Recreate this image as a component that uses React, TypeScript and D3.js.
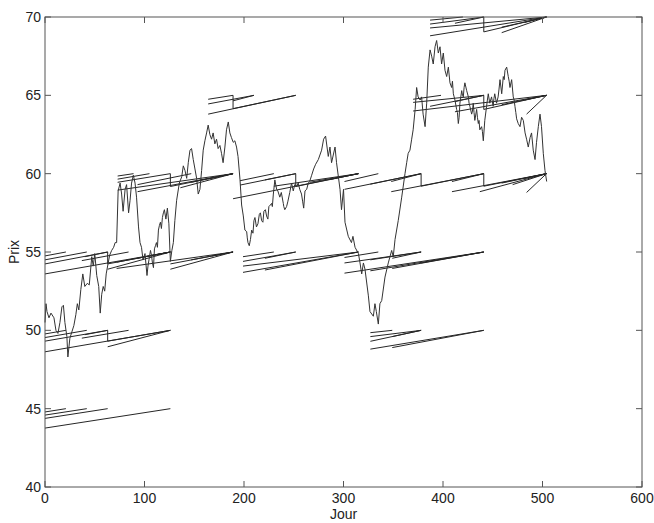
import React from "react";
import * as d3 from "d3";

// ---- Axis ticks ----
const X_TICKS = [0, 100, 200, 300, 400, 500, 600];
const Y_TICKS = [40, 45, 50, 55, 60, 65, 70];

// ---- Price series (day, price) ----
const PRICE_SERIES: [number, number][] = [
  [0, 50.5], [1, 51.7], [2, 51.2], [4, 50.8], [6, 51.1], [9, 50.8], [11, 50.0], [13, 49.8],
  [15, 50.5], [17, 51.5], [18.5, 51.6], [20, 50.5], [22, 49.6], [23, 48.3], [25, 49.5],
  [27, 49.9], [29, 50.3], [31, 51.0], [32.5, 51.7], [34, 51.3], [36, 52.6], [38, 53.6],
  [40, 52.8], [42.5, 53.0], [44.5, 52.9], [47, 54.7], [48.5, 54.1], [50, 54.9], [52, 53.5],
  [54, 52.8], [55.5, 51.1], [57, 52.3], [58.5, 52.8], [60, 52.5], [61.5, 53.6], [63.5, 54.3],
  [65, 54.8], [67, 55.1], [69, 55.3], [70.5, 55.6], [72, 55.6], [73.5, 58.9], [75.5, 59.4],
  [77, 58.7], [78.5, 57.6], [80.5, 59.0], [82, 59.3], [84, 57.5], [85.5, 58.3], [87, 59.4],
  [88.8, 59.9], [90.5, 59.4], [92, 58.5], [94, 56.6], [95.5, 55.6], [97, 55.3], [98.5, 54.5],
  [100.5, 54.9], [102.5, 53.5], [104.5, 54.5], [106, 55.1], [108, 54.3], [110, 55.2],
  [112, 55.6], [114, 56.4], [116, 56.9], [118, 57.2], [120, 57.7], [121.5, 57.1], [123, 57.8],
  [124.5, 56.8], [126, 54.4], [127.5, 55.1], [129, 55.6], [130.5, 57.0], [132.3, 58.3],
  [135, 59.4], [137.4, 59.8], [139, 60.5], [140.7, 60.2], [142.4, 59.7], [144, 60.7],
  [145.7, 61.5], [147.3, 61.6], [149, 60.9], [150.7, 60.3], [152.4, 59.7], [154, 58.7],
  [155.7, 59.0], [157.4, 60.2], [159, 61.5], [160.7, 62.1], [162.4, 62.6], [164, 63.1],
  [165.7, 62.5], [167.4, 62.2], [169, 62.6], [170.7, 61.9], [172.4, 62.2], [174, 61.6],
  [175.8, 61.8], [177.4, 61.3], [179, 60.7], [180.8, 61.7], [182.4, 62.8], [184.2, 63.3],
  [185.8, 62.6], [187.4, 62.3], [189.2, 62.0], [190.8, 62.1], [192.5, 61.7], [194, 61.1],
  [196, 59.6], [197.6, 58.0], [199.3, 57.3], [200.9, 56.4], [202.7, 56.3], [204, 55.6],
  [205.3, 55.4], [207.7, 56.4], [210, 57.0], [212.5, 56.6], [215.4, 57.4], [217.7, 57.0],
  [220, 57.6], [222.7, 57.3], [225, 57.9], [227.7, 58.1], [229.5, 58.7], [231, 59.6],
  [232.8, 59.0], [236, 58.5], [239.5, 58.1], [241, 57.7], [242.8, 57.9], [246, 58.8],
  [247.8, 59.4], [249.5, 58.9], [252.8, 59.2], [254.5, 59.4], [257.8, 58.7], [260, 57.8],
  [261.3, 58.9], [264.6, 59.4], [266, 59.5], [268, 59.9], [270, 60.3], [272, 60.6],
  [274.7, 60.9], [278, 61.5], [280, 62.2], [282, 62.4], [284.7, 61.1], [286.4, 61.7],
  [288, 60.7], [291.5, 61.7], [293, 60.7], [296.5, 59.0], [298, 57.7], [300, 59.0],
  [301.5, 56.9], [304.8, 56.0], [308, 55.6], [309.5, 56.0], [311.6, 55.3], [315, 54.9],
  [316.6, 54.3], [318.3, 53.6], [320, 54.3], [321.6, 53.9], [325, 52.2], [326.6, 51.2],
  [330, 50.9], [331.6, 51.7], [333, 51.2], [335, 50.4], [336.6, 51.7], [338.4, 51.9],
  [341.7, 53.4], [345, 54.3], [348.4, 55.1], [350, 54.7], [351.8, 55.8], [355, 57.0],
  [358.5, 58.5], [361.8, 60.0], [363.5, 60.7], [365, 61.3], [366.8, 61.5], [368.5, 62.2],
  [370, 62.8], [372, 64.1], [373.5, 65.5], [375, 64.9], [377, 64.7], [378.5, 64.9],
  [380, 63.8], [382, 63.0], [383.6, 64.5], [385.2, 66.8], [387, 67.9], [388.6, 67.5],
  [390.2, 67.0], [392, 68.1], [393.6, 68.5], [395.3, 67.7], [397, 68.1], [398.6, 67.0],
  [400.3, 67.7], [402, 66.6], [403.7, 66.2], [405.4, 66.8], [407, 65.8], [408.7, 65.5],
  [410.4, 65.1], [412, 64.7], [413.7, 64.1], [415.4, 63.2], [417, 64.5], [418.8, 65.3],
  [420.4, 64.9], [422, 65.8], [423.8, 65.3], [425.5, 64.9], [427, 64.3], [428.8, 63.8],
  [430.4, 64.5], [432, 63.4], [433.8, 64.1], [435.5, 63.2], [437, 62.8], [438.8, 63.0],
  [440.5, 62.1], [442, 63.4], [443.8, 64.3], [445.5, 65.1], [447, 64.5], [448.8, 64.9],
  [450.4, 64.3], [452, 65.1], [453.8, 64.5], [455.4, 64.9], [457.3, 66.0], [459, 65.1],
  [460.6, 66.2], [462.3, 66.6], [464, 66.8], [465.6, 66.2], [467.3, 65.5], [469, 66.0],
  [470.6, 64.9], [472.3, 64.3], [474, 63.5], [475.6, 63.2], [477.4, 63.0], [479, 63.6],
  [480.7, 63.4], [482.5, 62.6], [484, 62.2], [485.7, 61.7], [487.5, 62.3], [489, 62.6],
  [490.7, 61.5], [492.5, 60.9], [494, 62.0], [495.8, 63.0], [497.5, 63.8], [499, 63.0],
  [500.8, 61.3], [502.5, 60.2], [504.2, 59.5],
];

// ---- Extra small wiggles of the price line seen in the picture (day, price) ----
const PRICE_WIGGLES: [number, number][] = [
  [103.5, 54.1], [107, 54.8], [109, 54.0], [111, 55.4], [113, 55.3], [115, 56.7],
  [117, 56.5], [119, 57.5],
  [203.3, 55.9], [206.5, 55.8], [209, 56.2], [211, 57.2], [214, 56.8], [216.5, 57.5],
  [219, 56.9], [221.5, 57.7], [224, 57.1], [226.5, 58.0], [228.5, 57.9], [234, 58.9],
  [237.5, 58.8], [240, 57.9], [244, 58.2], [251, 59.3], [256, 59.0], [259, 58.2], [263, 59.0],
  [406.2, 66.3], [409.5, 65.9], [411.2, 64.9], [414.5, 63.9], [416.2, 63.6], [419.6, 65.0],
  [421.2, 65.5], [426.2, 64.5], [429.6, 64.0], [431.2, 63.9], [434.6, 63.6], [436.2, 63.4],
  [439.6, 62.7], [444.6, 64.7], [449.6, 64.6], [451.2, 64.8], [456.3, 65.4], [461.5, 66.0],
  [466.5, 65.9], [471.5, 64.7], [473.2, 63.9],
];

// ---- Strike lines [startDay, startValue, endDay, endValue], grouped by strike ----
const SEG_45: number[][] = [
  [0, 44.79, 21, 45], [0, 44.59, 42, 45], [0, 44.38, 63, 45], [0, 43.76, 126, 45],
];

const SEG_50: number[][] = [
  [0, 49.77, 21, 50], [0, 49.54, 42, 50], [0, 49.31, 63, 50], [0, 48.63, 126, 50],
  [40, 49.72, 63, 50], [37, 49.5, 84, 50], [63, 50, 63, 49.31], [63, 49.31, 126, 50],
  [63, 48.95, 126, 50],
  [327, 49.85, 349, 50], [327, 49.6, 378, 50], [327, 49.3, 378, 50], [327, 48.8, 441, 50],
  [349, 49.6, 378, 50], [349, 48.9, 441, 50],
];

const SEG_55: number[][] = [
  [0, 54.75, 21, 55], [0, 54.5, 42, 55], [0, 54.24, 63, 55], [0, 53.6, 126, 55],
  [40, 54.7, 63, 55], [37, 54.45, 84, 55], [63, 55, 63, 54.24], [63, 54.24, 126, 55],
  [63, 53.9, 126, 55], [72, 54.35, 126, 55], [93, 54.6, 126, 55], [105, 54.75, 126, 55],
  [72, 53.95, 189, 55], [126, 54.24, 189, 55], [126, 53.9, 189, 55], [147, 54.5, 189, 55],
  [168, 54.75, 189, 55],
  [199, 54.7, 230, 55], [199, 54.4, 252, 55], [199, 54.1, 315, 55], [199, 53.7, 315, 55],
  [221, 54.6, 252, 55], [221, 53.85, 315, 55],
  [301, 54.65, 335, 55], [301, 54.3, 378, 55], [301, 53.65, 441, 55], [327, 54.5, 378, 55],
  [327, 53.8, 441, 55], [349, 54.6, 378, 55], [349, 53.95, 441, 55], [378, 54.3, 441, 55],
];

const SEG_60: number[][] = [
  [73, 59.85, 89, 60], [73, 59.65, 105, 60], [73, 59.45, 126, 60], [73, 58.95, 189, 60],
  [93, 59.3, 147, 60], [93, 58.85, 189, 60], [126, 60, 126, 59.18], [126, 59.18, 189, 60],
  [136, 59.1, 189, 60], [147, 59.45, 189, 60], [164, 59.67, 189, 60],
  [189, 58.4, 315, 60], [196, 59.55, 230, 60], [196, 59.27, 252, 60], [221, 59.6, 252, 60],
  [230, 59.2, 315, 60], [252, 60, 252, 59.18], [252, 59.18, 315, 60], [266, 59.45, 315, 60],
  [286, 59.62, 315, 60],
  [301, 59.5, 335, 60], [301, 59.0, 378, 60], [327, 59.33, 378, 60], [348, 59.5, 378, 60],
  [348, 58.85, 441, 60], [378, 60, 378, 59.2], [378, 59.2, 441, 60], [409, 59.5, 441, 60],
  [409, 58.85, 504, 60], [437, 58.85, 504, 60], [441, 60, 441, 59.2], [441, 59.2, 504, 60],
  [459, 59.4, 504, 60], [470, 59.3, 504, 60], [482, 59.7, 504, 60], [484, 58.8, 504, 60],
];

const SEG_65: number[][] = [
  [164, 64.75, 189, 65], [164, 64.45, 210, 65], [164, 63.8, 252, 65], [189, 65, 189, 64.15],
  [189, 64.15, 252, 65], [189, 64.65, 210, 65],
  [370, 64.75, 398, 65], [370, 64.55, 441, 65], [370, 64.0, 504, 65], [387, 64.3, 441, 65],
  [412, 64.6, 441, 65], [412, 63.95, 504, 65], [441, 65, 441, 64.1], [441, 64.1, 504, 65],
  [459, 64.4, 504, 65], [482, 64.7, 504, 65], [484, 63.8, 504, 65],
];

const SEG_70: number[][] = [
  [387, 69.8, 420, 70], [387, 69.55, 441, 70], [387, 69.3, 504, 70], [387, 68.8, 504, 70],
  [412, 69.6, 441, 70], [441, 70, 441, 69.05], [441, 69.05, 504, 70], [459, 69.35, 504, 70],
  [459, 69.0, 504, 70], [482, 69.65, 504, 70],
];

const X_LABEL = "Jour";
const Y_LABEL = "Prix";

export default function App() {
  const W = 654;
  const H = 523;
  const left = 45, right = 642, top = 17, bottom = 487;
  const x = d3.scaleLinear().domain([0, 600]).range([left, right]);
  const y = d3.scaleLinear().domain([40, 70]).range([bottom, top]);
  const line = d3
    .line<[number, number]>()
    .x((d) => x(d[0]))
    .y((d) => y(d[1]));

  const price = [...PRICE_SERIES, ...PRICE_WIGGLES].sort((a, b) => a[0] - b[0]);
  const segs = [...SEG_45, ...SEG_50, ...SEG_55, ...SEG_60, ...SEG_65, ...SEG_70];
  const font = "'Liberation Sans', Arial, Helvetica, sans-serif";
  const axisColor = "#555";
  const tickLen = 6;

  return (
    <svg
      width={W}
      height={H}
      style={{ position: "absolute", left: 0, top: 0, background: "#fff" }}
    >
      <rect x={0} y={0} width={W} height={H} fill="#fff" />
      <g stroke="#262626" strokeWidth={1} fill="none">
        {segs.map((s, i) => (
          <path key={i} d={line([[s[0], s[1]], [s[2], s[3]]]) || ""} />
        ))}
      </g>
      <path
        d={line(price) || ""}
        fill="none"
        stroke="#333"
        strokeWidth={1}
        strokeLinejoin="round"
      />
      <rect
        x={left}
        y={top}
        width={right - left}
        height={bottom - top}
        fill="none"
        stroke={axisColor}
        strokeWidth={1}
      />
      <g stroke={axisColor} strokeWidth={1}>
        {X_TICKS.map((t) => (
          <g key={"xt" + t}>
            <line x1={x(t)} x2={x(t)} y1={bottom} y2={bottom - tickLen} />
            <line x1={x(t)} x2={x(t)} y1={top} y2={top + tickLen} />
          </g>
        ))}
        {Y_TICKS.map((t) => (
          <g key={"yt" + t}>
            <line x1={left} x2={left + tickLen} y1={y(t)} y2={y(t)} />
            <line x1={right} x2={right - tickLen} y1={y(t)} y2={y(t)} />
          </g>
        ))}
      </g>
      <g fontFamily={font} fontSize={14} fill="#222">
        {X_TICKS.map((t) => (
          <text key={"xl" + t} x={x(t)} y={503} textAnchor="middle">
            {t}
          </text>
        ))}
        {Y_TICKS.map((t) => (
          <text key={"yl" + t} x={41} y={y(t) + 5} textAnchor="end">
            {t}
          </text>
        ))}
        <text x={(left + right) / 2} y={519} textAnchor="middle">
          {X_LABEL}
        </text>
        <text
          transform={`translate(19, ${(top + bottom) / 2}) rotate(-90)`}
          textAnchor="middle"
        >
          {Y_LABEL}
        </text>
      </g>
    </svg>
  );
}
